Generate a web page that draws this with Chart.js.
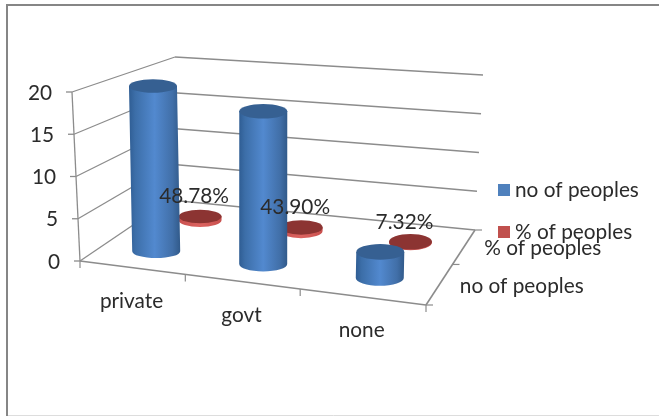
<!DOCTYPE html>
<html><head><meta charset="utf-8">
<style>html,body{margin:0;padding:0;background:#fff}canvas{display:block}</style>
<script src="https://cdn.jsdelivr.net/npm/chart.js@4"></script>
</head><body><canvas id="c" width="659" height="416"></canvas>
<script>
const categories = ['private','govt','none'];
const depthLabels = ['no of peoples','% of peoples'];
const noOfPeoples = [20,18,3];
const pctOfPeoples = [0.4878,0.4390,0.0732];
const yTicks = [0,5,10,15,20];
const FONT = 'Lato, "Open Sans", sans-serif';
const TEXT = '#2b2b2b';
const GRID = '#8c8c8c';
const FSIZE = 20.8;

// floor of the 3D box, corners in page pixels
const FL={x:80,y:261},FR={x:426,y:305},BR={x:475,y:230},BL={x:170,y:200};
const H={FL:169,FR:183,BL:143,BR:155}, TILT={FL:-8,FR:4,BL:5,BR:8};
// where each series stands on the floor, and how it is shaped
const ROW=[{du:.008,d:.235,rx:24,k:.5},{du:.015,d:.73,rx:21.5,k:.58}];
// homography of unit square (u along categories, d into depth)
const homo=(function(){
  const x0=FL.x,y0=FL.y,x1=FR.x,y1=FR.y,x2=BR.x,y2=BR.y,x3=BL.x,y3=BL.y;
  const dx1=x1-x2,dx2=x3-x2,dx3=x0-x1+x2-x3,dy1=y1-y2,dy2=y3-y2,dy3=y0-y1+y2-y3;
  const det=dx1*dy2-dx2*dy1;
  const g=(dx3*dy2-dx2*dy3)/det,h=(dx1*dy3-dx3*dy1)/det;
  const a=x1-x0+g*x1,b=x3-x0+h*x3,c=x0,d=y1-y0+g*y1,e=y3-y0+h*y3,f=y0;
  return (u,v)=>{const w=g*u+h*v+1;return {x:(a*u+b*v+c)/w,y:(d*u+e*v+f)/w};};
})();
function bil(o,u,d){return (o.FL*(1-u)+o.FR*u)*(1-d)+(o.BL*(1-u)+o.BR*u)*d;}
function pt(chart,u,d,val){
  const y=chart.scales.y, p=homo(u,d);
  const frac=(y.bottom-y.getPixelForValue(val))/(y.bottom-y.top);
  return {x:p.x+bil(TILT,u,d)*frac,y:p.y-bil(H,u,d)*frac};
}
function uOf(chart,px){const s=chart.scales.x;return (px-s.left)/(s.right-s.left);}
function line(ctx,a,b){ctx.beginPath();ctx.moveTo(a.x,a.y);ctx.lineTo(b.x,b.y);ctx.stroke();}

function cylinder(ctx,chart,u,row,val,kind){
  const d=row.d,rx=row.rx;
  const b=pt(chart,u,d,0),t=pt(chart,u,d,val);
  const span=Math.abs(homo(u,d+.1).y-homo(u,d-.1).y);
  const ry=span*row.k;
  const g=ctx.createLinearGradient(Math.min(b.x,t.x)-rx,0,Math.max(b.x,t.x)+rx,0);
  if(kind===0){g.addColorStop(0,'#2f5d93');g.addColorStop(.12,'#3c6ea8');g.addColorStop(.5,'#5289cf');g.addColorStop(.85,'#416fa8');g.addColorStop(1,'#315a8a');}
  else{g.addColorStop(0,'#c9504e');g.addColorStop(.5,'#dc6461');g.addColorStop(1,'#c9504e');}
  ctx.fillStyle=g;
  ctx.beginPath();
  ctx.moveTo(t.x-rx,t.y);
  ctx.lineTo(b.x-rx,b.y);
  ctx.ellipse(b.x,b.y,rx,ry,0,Math.PI,0,true);
  ctx.lineTo(t.x+rx,t.y);
  ctx.closePath();ctx.fill();
  ctx.fillStyle=kind===0?'#366092':'#8c3432';
  ctx.beginPath();ctx.ellipse(t.x,t.y,rx,ry,0,0,Math.PI*2);ctx.fill();
}

const box3d={
  id:'box3d',
  beforeDraw(chart){
    const ctx=chart.ctx;
    ctx.save();ctx.fillStyle='#fff';ctx.fillRect(0,0,chart.width,chart.height);
    ctx.strokeStyle='#868686';ctx.lineWidth=2;
    ctx.beginPath();ctx.moveTo(7,416);ctx.lineTo(7,5);ctx.lineTo(659,5);ctx.stroke();
    ctx.strokeStyle='#dddddd';ctx.lineWidth=1;ctx.beginPath();ctx.moveTo(8,415.5);ctx.lineTo(659,415.5);ctx.stroke();
    ctx.restore();
  },
  beforeDatasetsDraw(chart){
    const ctx=chart.ctx,ys=chart.scales.y,xs=chart.scales.x;
    ctx.save();ctx.strokeStyle=GRID;ctx.lineWidth=1.3;
    ys.ticks.forEach(t=>{
      const a=pt(chart,0,0,t.value),b=pt(chart,0,1,t.value),c=pt(chart,1,1,t.value);
      line(ctx,a,b);line(ctx,b,c);
      line(ctx,{x:a.x-6,y:a.y},a);
    });
    line(ctx,pt(chart,0,0,0),pt(chart,0,0,20));
    // floor edges and ticks
    ctx.lineWidth=1.6;
    line(ctx,FL,FR);line(ctx,FR,BR);
    ctx.lineWidth=1.2;
    [0,1,2,3].forEach(i=>{const p=homo(i/3,0);line(ctx,p,{x:p.x,y:p.y+7});});
    [0,.5,1].forEach(d=>{const p=homo(1,d);line(ctx,{x:p.x,y:p.y},{x:p.x+7,y:p.y});});
    // tick text
    ctx.fillStyle=TEXT;ctx.font=FSIZE+'px '+FONT;ctx.textBaseline='middle';
    ctx.textAlign='right';
    ys.ticks.forEach(t=>{const a=pt(chart,0,0,t.value);ctx.fillText(String(t.value),a.x-20,a.y+1);});
    ctx.textAlign='center';
    categories.forEach((c,i)=>{const u=uOf(chart,xs.getPixelForTick(i));const p=homo(u,0);ctx.fillText(c,p.x,p.y+33.5);});
    ctx.textAlign='left';
    depthLabels.forEach((s,i)=>{const p=homo(1,i===0?.25:.75);ctx.fillText(s,p.x+20,p.y+2);});
    ctx.restore();
  },
  beforeDatasetDraw(chart,args){
    const ctx=chart.ctx,i=args.index,meta=args.meta,row=ROW[i];
    ctx.save();
    meta.data.forEach((el,j)=>{
      cylinder(ctx,chart,uOf(chart,el.x)+row.du,row,chart.data.datasets[i].data[j],i);
    });
    ctx.restore();
    return false;
  },
  afterDatasetsDraw(chart){
    const ctx=chart.ctx,xs=chart.scales.x,row=ROW[1];
    ctx.save();ctx.fillStyle=TEXT;ctx.font=FSIZE+'px '+FONT;ctx.textAlign='center';ctx.textBaseline='middle';
    pctOfPeoples.forEach((v,j)=>{
      const u=uOf(chart,xs.getPixelForTick(j))+row.du;
      const p=pt(chart,u,row.d,v);
      ctx.fillText((v*100).toFixed(2)+'%',p.x-6,p.y-20);
    });
    ctx.restore();
  },
  afterDraw(chart){
    const ctx=chart.ctx;
    ctx.save();ctx.font=FSIZE+'px '+FONT;ctx.textAlign='left';ctx.textBaseline='middle';
    chart.data.datasets.forEach((ds,i)=>{
      const cy=190+42*i;
      ctx.fillStyle=ds.backgroundColor;ctx.fillRect(498,cy-6,12,12);
      ctx.fillStyle=TEXT;ctx.fillText(ds.label,515,cy);
    });
    ctx.restore();
  }
};

new Chart(document.getElementById('c'),{
  type:'bar',
  data:{labels:categories,datasets:[
    {label:'no of peoples',data:noOfPeoples,backgroundColor:'#4f81bd',borderWidth:0,grouped:false},
    {label:'% of peoples',data:pctOfPeoples,backgroundColor:'#c0504d',borderWidth:0,grouped:false}
  ]},
  options:{
    responsive:false,animation:false,devicePixelRatio:1,
    layout:{padding:{left:80,top:92,bottom:155,right:184}},
    plugins:{tooltip:{enabled:false},legend:{display:false}},
    scales:{
      x:{grid:{display:false},border:{display:false},ticks:{display:false}},
      y:{min:0,max:20,grid:{display:false},border:{display:false},ticks:{display:false,stepSize:5},
         afterBuildTicks(s){s.ticks=yTicks.map(v=>({value:v}));}}
    }
  },
  plugins:[box3d]
});
</script>
</body></html>
